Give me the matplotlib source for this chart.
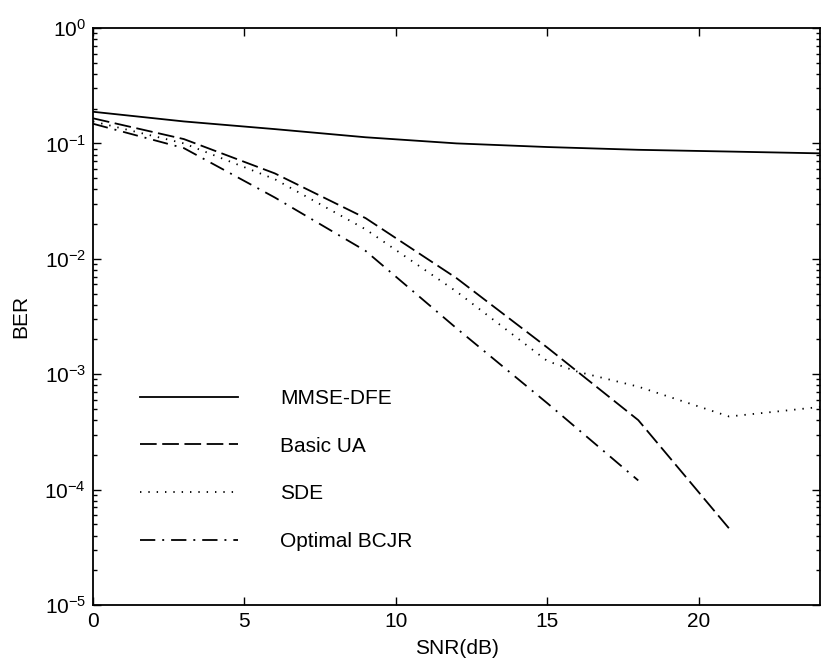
import matplotlib
matplotlib.use("Agg")
import matplotlib.pyplot as plt

snr = [0, 3, 6, 9, 12, 15, 18, 21, 24]
mmse_dfe = [0.188, 0.155, 0.133, 0.113, 0.100, 0.093, 0.088, 0.085, 0.082]

snr_ua = [0, 3, 6, 9, 12, 15, 18, 21]
basic_ua = [0.165, 0.109, 0.055, 0.0225, 0.0068, 0.0017, 0.0004, 0.000046]

snr_sde = [0, 3, 6, 9, 12, 15, 16, 18, 21, 24]
sde = [0.155, 0.100, 0.049, 0.018, 0.0052, 0.0013, 0.00105, 0.00078, 0.00043, 0.00052]

snr_bcjr = [0, 3, 6, 9, 12, 15, 18]
bcjr = [0.148, 0.091, 0.034, 0.0117, 0.0025, 0.00056, 0.00012]

labels = ["MMSE-DFE", "Basic UA", "SDE", "Optimal BCJR"]
ytick_vals = [1e-5, 1e-4, 1e-3, 1e-2, 1e-1, 1]
ytick_labels = [r"$10^{-5}$", r"$10^{-4}$", r"$10^{-3}$", r"$10^{-2}$",
                r"$10^{-1}$", r"$10^{0}$"]


def main():
    plt.rcParams["font.family"] = ["Liberation Sans", "DejaVu Sans"]
    plt.rcParams["mathtext.fontset"] = "custom"
    plt.rcParams["mathtext.rm"] = "Liberation Sans"
    plt.rcParams["mathtext.it"] = "Liberation Sans"
    plt.rcParams["lines.scale_dashes"] = False

    fig = plt.figure(figsize=(8.21, 6.68), dpi=100)
    ax = fig.add_axes([93 / 821, 1 - 605 / 668, 727 / 821, 577 / 668])

    lw = 1.3
    ax.plot(snr, mmse_dfe, color="black", lw=lw, label=labels[0])
    ax.plot(snr_ua, basic_ua, color="black", lw=lw, dashes=(12, 4),
            label=labels[1])
    ax.plot(snr_sde, sde, color="black", lw=lw, dashes=(1, 5),
            label=labels[2])
    ax.plot(snr_bcjr, bcjr, color="black", lw=lw, dashes=(11, 5, 1.4, 5),
            label=labels[3])

    ax.set_yscale("log")
    ax.set_ylim(1e-5, 1)
    ax.set_xlim(0, 24)
    ax.set_xticks([0, 5, 10, 15, 20])
    ax.set_yticks(ytick_vals, labels=ytick_labels)
    ax.tick_params(which="both", direction="in", top=True, right=True,
                   labelsize=15, color="black")
    ax.tick_params(which="major", length=6, width=1, pad=5)
    ax.tick_params(which="minor", length=3, width=1)
    for s in ax.spines.values():
        s.set_linewidth(1.3)

    ax.set_xlabel("SNR(dB)", fontsize=15, labelpad=6)
    ax.set_ylabel("BER", fontsize=15, labelpad=10)

    ax.legend(loc="center left", bbox_to_anchor=(0.065, 0.234),
              frameon=False, fontsize=15, handlelength=4.7,
              handletextpad=2.0, labelspacing=1.38, borderpad=0,
              borderaxespad=0)

    fig.savefig("out.png", dpi=100)


if __name__ == "__main__":
    main()
